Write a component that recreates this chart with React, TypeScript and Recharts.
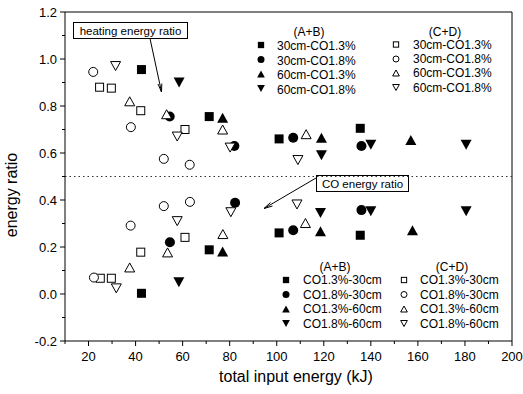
import React from 'react';
import { ScatterChart, Scatter, XAxis, YAxis, ReferenceLine, Customized } from 'recharts';

const xTicks = [10, 20, 30, 40, 50, 60, 70, 80, 90, 100, 110, 120, 130, 140, 150, 160, 170, 180, 190, 200];
const yTicks = [-0.2, -0.1, 0, 0.1, 0.2, 0.3, 0.4, 0.5, 0.6, 0.7, 0.8, 0.9, 1.0, 1.1, 1.2];

// (A+B) filled markers
const ab30_13Heat = [{ x: 42.5, y: 0.955 }, { x: 71.3, y: 0.755 }, { x: 101, y: 0.66 }, { x: 135.5, y: 0.705 }];
const ab30_13CO = [{ x: 42.5, y: 0.003 }, { x: 71.3, y: 0.188 }, { x: 101, y: 0.26 }, { x: 135.5, y: 0.25 }];
const ab30_18Heat = [{ x: 54.5, y: 0.755 }, { x: 82, y: 0.63 }, { x: 107, y: 0.665 }, { x: 136, y: 0.63 }];
const ab30_18CO = [{ x: 54.6, y: 0.22 }, { x: 82.3, y: 0.388 }, { x: 107, y: 0.271 }, { x: 136, y: 0.357 }];
const ab60_13Heat = [{ x: 77, y: 0.75 }, { x: 119, y: 0.665 }, { x: 157, y: 0.655 }];
const ab60_13CO = [{ x: 77, y: 0.181 }, { x: 118.6, y: 0.267 }, { x: 157.7, y: 0.271 }];
const ab60_18Heat = [{ x: 58.5, y: 0.9 }, { x: 119, y: 0.59 }, { x: 140, y: 0.635 }, { x: 180.5, y: 0.635 }];
const ab60_18CO = [{ x: 58.4, y: 0.05 }, { x: 118.6, y: 0.345 }, { x: 140, y: 0.352 }, { x: 180.5, y: 0.352 }];

// (C+D) open markers
const cd30_13Heat = [{ x: 24.7, y: 0.88 }, { x: 29.7, y: 0.876 }, { x: 42.2, y: 0.78 }, { x: 61, y: 0.7 }];
const cd30_13CO = [{ x: 25, y: 0.067 }, { x: 29.7, y: 0.067 }, { x: 42.2, y: 0.178 }, { x: 61, y: 0.241 }];
const cd30_18Heat = [{ x: 22, y: 0.945 }, { x: 38, y: 0.71 }, { x: 52, y: 0.575 }, { x: 63, y: 0.55 }];
const cd30_18CO = [{ x: 22.3, y: 0.07 }, { x: 37.9, y: 0.291 }, { x: 52, y: 0.374 }, { x: 63.1, y: 0.392 }];
const cd60_13Heat = [{ x: 37.5, y: 0.82 }, { x: 53.2, y: 0.765 }, { x: 77, y: 0.7 }, { x: 112.5, y: 0.68 }];
const cd60_13CO = [{ x: 37.5, y: 0.113 }, { x: 53.6, y: 0.177 }, { x: 77.1, y: 0.255 }, { x: 112.2, y: 0.302 }];
const cd60_18Heat = [{ x: 31.5, y: 0.97 }, { x: 57.7, y: 0.67 }, { x: 80.2, y: 0.623 }, { x: 109, y: 0.57 }];
const cd60_18CO = [{ x: 31.8, y: 0.024 }, { x: 57.7, y: 0.31 }, { x: 80.5, y: 0.348 }, { x: 108.6, y: 0.381 }];

const topLabelsAB = ['30cm-CO1.3%', '30cm-CO1.8%', '60cm-CO1.3%', '60cm-CO1.8%'];
const bottomLabels = ['CO1.3%-30cm', 'CO1.8%-30cm', 'CO1.3%-60cm', 'CO1.8%-60cm'];
const kinds = ['square', 'circle', 'up', 'down'];

const FONT = '"Liberation Sans", Arial, sans-serif';

function Marker({ kind, filled, cx, cy, scale = 1 }: any) {
  const fill = filled ? '#000' : '#fff';
  const sw = filled ? 0 : 1;
  const off = filled ? 0 : 1;
  if (kind === 'square') {
    const s = 9 * scale - off;
    return <rect x={cx - s / 2} y={cy - s / 2} width={s} height={s} fill={fill} stroke="#000" strokeWidth={sw} />;
  }
  if (kind === 'circle') {
    const r = (10 * scale - off) / 2;
    return <circle cx={cx} cy={cy} r={r} fill={fill} stroke="#000" strokeWidth={sw} />;
  }
  const w = 11 * scale - off;
  const h = 10 * scale - off;
  if (kind === 'up') {
    return (
      <polygon
        points={`${cx},${cy - h / 2} ${cx + w / 2},${cy + h / 2} ${cx - w / 2},${cy + h / 2}`}
        fill={fill}
        stroke="#000"
        strokeWidth={sw}
      />
    );
  }
  return (
    <polygon
      points={`${cx - w / 2},${cy - h / 2} ${cx + w / 2},${cy - h / 2} ${cx},${cy + h / 2}`}
      fill={fill}
      stroke="#000"
      strokeWidth={sw}
    />
  );
}

const XTick = (props: any) => {
  const { x, y, payload } = props;
  const v = payload.value;
  const major = Math.round(v) % 20 === 0;
  return (
    <g>
      <line x1={x} x2={x} y1={y} y2={y + (major ? 5 : 3)} stroke="#000" strokeWidth={1} />
      {major && (
        <text x={x} y={y + 20} textAnchor="middle" fontSize={13} fontFamily={FONT} fill="#000">
          {v}
        </text>
      )}
    </g>
  );
};

const YTick = (props: any) => {
  const { x, y, payload } = props;
  const v = payload.value;
  const major = Math.abs(Math.round(v * 10)) % 2 === 0;
  return (
    <g>
      <line x1={x} x2={x - (major ? 5 : 3)} y1={y} y2={y} stroke="#000" strokeWidth={1} />
      {major && (
        <text x={x - 8} y={y} dy="0.36em" textAnchor="end" fontSize={13} fontFamily={FONT} fill="#000">
          {v.toFixed(1)}
        </text>
      )}
    </g>
  );
};

const Overlay = () => {
  const rowsTopAB = [46, 60.5, 75, 89.5];
  const rowsTopCD = [44.5, 59, 73, 87.5];
  const rowsBot = [280, 294.5, 309, 323.5];
  return (
    <g fontFamily={FONT} fill="#000">
      {/* top legend */}
      <text x={309} y={36} textAnchor="middle" fontSize={12}>(A+B)</text>
      <text x={445} y={36} textAnchor="middle" fontSize={12}>(C+D)</text>
      {kinds.map((k, i) => (
        <g key={'ta' + i}>
          <Marker kind={k} filled cx={261} cy={rowsTopAB[i] - 1} scale={0.7} />
          <text x={277} y={rowsTopAB[i] + 4} fontSize={12}>{topLabelsAB[i]}</text>
        </g>
      ))}
      {kinds.map((k, i) => (
        <g key={'tc' + i}>
          <Marker kind={k} filled={false} cx={396} cy={rowsTopCD[i]} scale={0.7} />
          <text x={413} y={rowsTopCD[i] + 4} fontSize={12}>{topLabelsAB[i]}</text>
        </g>
      ))}
      {/* bottom legend */}
      <text x={335} y={271} textAnchor="middle" fontSize={12}>(A+B)</text>
      <text x={452} y={271} textAnchor="middle" fontSize={12}>(C+D)</text>
      {kinds.map((k, i) => (
        <g key={'ba' + i}>
          <Marker kind={k} filled cx={286} cy={rowsBot[i]} scale={0.7} />
          <text x={303} y={rowsBot[i] + 4} fontSize={12}>{bottomLabels[i]}</text>
        </g>
      ))}
      {kinds.map((k, i) => (
        <g key={'bc' + i}>
          <Marker kind={k} filled={false} cx={404} cy={rowsBot[i]} scale={0.7} />
          <text x={420} y={rowsBot[i] + 4} fontSize={12}>{bottomLabels[i]}</text>
        </g>
      ))}
      {/* annotations */}
      <rect x={73.5} y={22.5} width={114} height={16} fill="#fff" stroke="#000" strokeWidth={1} />
      <text x={130.5} y={34.5} textAnchor="middle" fontSize={11.5}>heating energy ratio</text>
      <line x1={150} y1={38.5} x2={161.5} y2={92} stroke="#000" strokeWidth={1} />
      <polyline points="158,84 161.5,92 161.8,83.5" fill="none" stroke="#000" strokeWidth={1} />
      <line x1={316} y1={178} x2={264} y2={208.5} stroke="#000" strokeWidth={1} />
      <polyline points="270.5,202.5 264,208.5 272.5,206" fill="none" stroke="#000" strokeWidth={1} />
      <rect x={316.5} y={175.5} width={92} height={16} fill="#fff" stroke="#000" strokeWidth={1} />
      <text x={362.5} y={187.5} textAnchor="middle" fontSize={11.5}>CO energy ratio</text>
      {/* axis titles */}
      <text x={296} y={382} textAnchor="middle" fontSize={16}>total input energy (kJ)</text>
      <text x={17} y={195} textAnchor="middle" fontSize={16} transform="rotate(-90 17 195)">energy ratio</text>
    </g>
  );
};

const series = [
  { name: 'ab30_13', data: [...ab30_13Heat, ...ab30_13CO], kind: 'square', filled: true },
  { name: 'ab30_18', data: [...ab30_18Heat, ...ab30_18CO], kind: 'circle', filled: true },
  { name: 'ab60_13', data: [...ab60_13Heat, ...ab60_13CO], kind: 'up', filled: true },
  { name: 'ab60_18', data: [...ab60_18Heat, ...ab60_18CO], kind: 'down', filled: true },
  { name: 'cd30_13', data: [...cd30_13Heat, ...cd30_13CO], kind: 'square', filled: false },
  { name: 'cd30_18', data: [...cd30_18Heat, ...cd30_18CO], kind: 'circle', filled: false },
  { name: 'cd60_13', data: [...cd60_13Heat, ...cd60_13CO], kind: 'up', filled: false },
  { name: 'cd60_18', data: [...cd60_18Heat, ...cd60_18CO], kind: 'down', filled: false },
];

export default function App() {
  return (
    <div style={{ position: 'absolute', left: 0, top: 0, background: '#fff' }}>
      <ScatterChart width={523} height={394} margin={{ top: 12, right: 11, bottom: 0, left: 0 }}>
        <XAxis
          type="number"
          dataKey="x"
          domain={[10, 200]}
          ticks={xTicks}
          tick={<XTick />}
          tickLine={false}
          tickSize={0}
          tickMargin={0}
          axisLine={{ stroke: '#000', strokeWidth: 1 }}
          height={53}
          interval={0}
          allowDataOverflow
        />
        <YAxis
          type="number"
          dataKey="y"
          domain={[-0.2, 1.2]}
          ticks={yTicks}
          tick={<YTick />}
          tickLine={false}
          tickSize={0}
          tickMargin={0}
          axisLine={{ stroke: '#000', strokeWidth: 1 }}
          width={65}
          interval={0}
          allowDataOverflow
        />
        <ReferenceLine y={1.2} stroke="#000" strokeWidth={1} />
        <ReferenceLine x={200} stroke="#000" strokeWidth={1} />
        <ReferenceLine y={0.5} stroke="#333" strokeWidth={1} strokeDasharray="1.5 3" />
        {series.map((s) => (
          <Scatter
            key={s.name}
            name={s.name}
            data={s.data}
            isAnimationActive={false}
            shape={(p: any) => <Marker kind={s.kind} filled={s.filled} cx={p.cx} cy={p.cy} />}
          />
        ))}
        <Customized component={Overlay} />
      </ScatterChart>
    </div>
  );
}
